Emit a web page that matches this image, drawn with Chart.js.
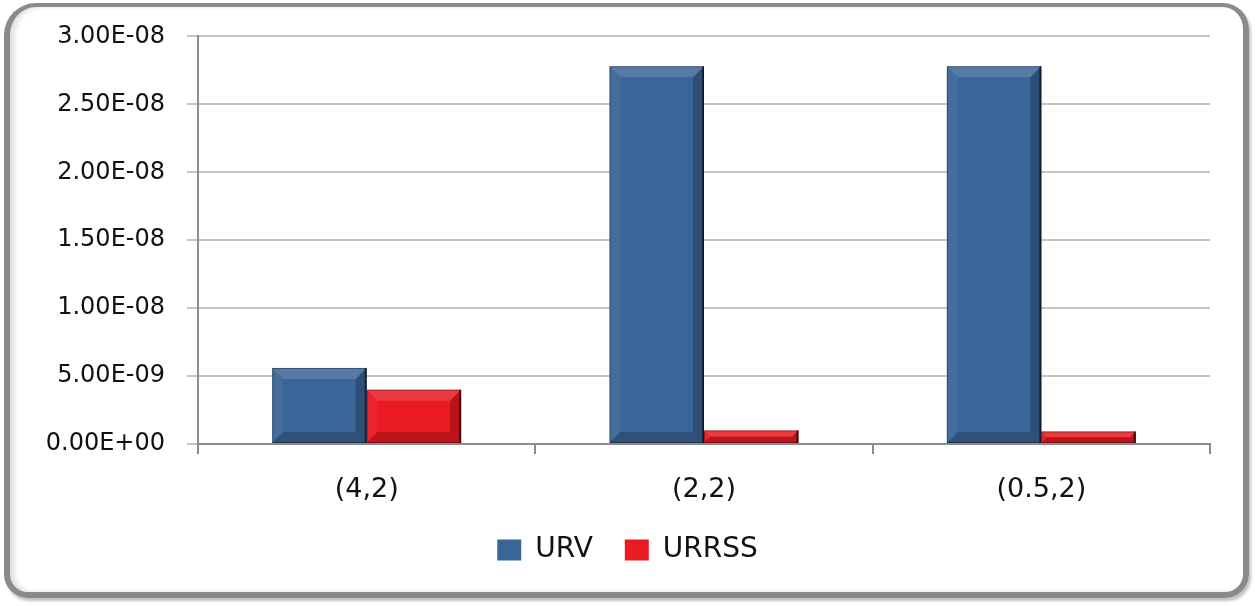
<!DOCTYPE html>
<html>
<head>
<meta charset="utf-8">
<script src="https://cdn.jsdelivr.net/npm/chart.js@4/dist/chart.umd.min.js"></script>
<style>
  html, body { margin: 0; padding: 0; background: #fff; }
  .wrap { position: relative; width: 1255px; height: 606px; }
  .frame {
    position: absolute; left: 4px; top: 3px; width: 1233px; height: 585px;
    border: 6px solid #8a8a8a; border-top-width: 4px; border-radius: 32px 26px 24px 24px;
    box-shadow: inset 5px 0 5px rgba(0,0,0,0.12), 2px 3px 3px rgba(0,0,0,0.25);
    pointer-events: none;
  }
  canvas { position: absolute; left: 0; top: 0; }
</style>
</head>
<body>
<div class="wrap">
  <canvas id="chart" width="1255" height="606"></canvas>
  <div class="frame"></div>
</div>
<script>
// data
const categories = ['(4,2)', '(2,2)', '(0.5,2)'];
const urv = [5.6e-9, 2.78e-8, 2.78e-8];
const urrss = [4.0e-9, 1.0e-9, 0.92e-9];
const yTickLabels = ['0.00E+00', '5.00E-09', '1.00E-08', '1.50E-08', '2.00E-08', '2.50E-08', '3.00E-08'];

const FONT = "'DejaVu Sans', Verdana, sans-serif";

// soft bevel on every bar, like the office chart style
const bevelPlugin = {
  id: 'bevel',
  afterDatasetsDraw(chart) {
    const ctx = chart.ctx;
    const poly = (pts, fill) => {
      ctx.beginPath();
      pts.forEach(([px, py], i) => (i ? ctx.lineTo(px, py) : ctx.moveTo(px, py)));
      ctx.closePath(); ctx.fillStyle = fill; ctx.fill();
    };
    chart.data.datasets.forEach((ds, i) => {
      chart.getDatasetMeta(i).data.forEach((bar) => {
        const { x, y, base, width } = bar.getProps(['x', 'y', 'base', 'width'], true);
        const l = x - width / 2, r = x + width / 2;
        const t = Math.min(y, base), btm = Math.max(y, base);
        const b = Math.min(11, (btm - t) / 2, width / 2);
        ctx.save();
        poly([[l, t], [r, t], [r - b, t + b], [l + b, t + b]], 'rgba(255,255,255,0.14)');
        poly([[l, t], [l + b, t + b], [l + b, btm - b], [l, btm]], 'rgba(255,255,255,0.05)');
        poly([[r, t], [r, btm], [r - b, btm - b], [r - b, t + b]], 'rgba(0,0,0,0.22)');
        poly([[l, btm], [r, btm], [r - b, btm - b], [l + b, btm - b]], 'rgba(0,0,0,0.2)');
        ctx.strokeStyle = 'rgba(0,0,0,0.35)';
        ctx.lineWidth = 1;
        ctx.strokeRect(l + 0.5, t + 0.5, width - 1, btm - t - 1);
        ctx.fillStyle = 'rgba(0,0,0,0.5)';
        ctx.fillRect(r - 2, t, 2, btm - t);
        ctx.restore();
      });
    });
  }
};

Chart.defaults.font.family = FONT;
Chart.defaults.color = '#111';

new Chart(document.getElementById('chart'), {
  type: 'bar',
  data: {
    labels: categories,
    datasets: [
      { label: 'URV', data: urv, backgroundColor: '#3a6598', borderWidth: 0 },
      { label: 'URRSS', data: urrss, backgroundColor: '#ea1a22', borderWidth: 0 },
    ],
  },
  options: {
    responsive: false,
    animation: false,
    events: [],
    layout: { padding: { top: 36, left: 45, right: 45, bottom: 32 } },
    datasets: { bar: { categoryPercentage: 0.56, barPercentage: 1 } },
    plugins: {
      tooltip: { enabled: false },
      legend: {
        position: 'bottom',
        labels: { font: { size: 28 }, boxWidth: 24, boxHeight: 21, padding: 32, color: '#111' },
      },
    },
    scales: {
      x: {
        grid: { drawOnChartArea: false, drawTicks: true, tickLength: 10, color: '#8c8c8c', lineWidth: 2 },
        border: { color: '#8c8c8c', width: 2 },
        ticks: { font: { size: 27 }, padding: 20, color: '#111' },
        afterFit: (s) => { s.height = 60; },
      },
      y: {
        min: 0, max: 3e-8,
        ticks: {
          stepSize: 5e-9, font: { size: 24 }, padding: 22, color: '#111',
          callback: (v, i) => yTickLabels[i],
        },
        grid: { color: '#c4c4c4', lineWidth: 2, tickLength: 11 },
        border: { color: '#8c8c8c', width: 2 },
        afterFit: (s) => { s.width = 153; },
      },
    },
  },
  plugins: [bevelPlugin],
});
</script>
</body>
</html>
